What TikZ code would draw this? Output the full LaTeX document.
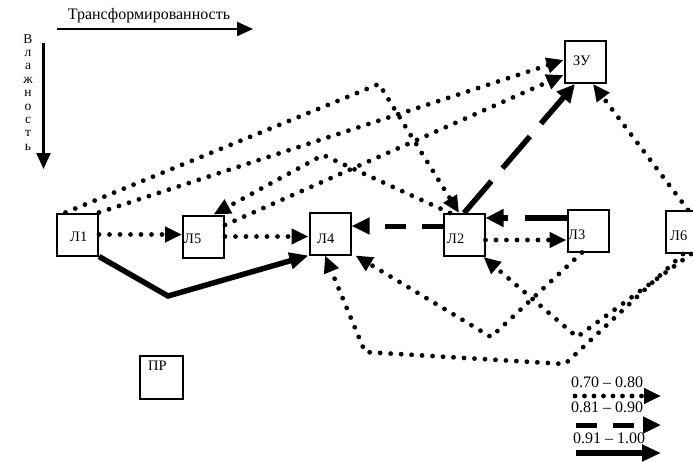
\documentclass[tikz,border=0pt]{standalone}
\usepackage{fontspec}
\setmainfont{Liberation Serif}
\usetikzlibrary{arrows.meta}
\begin{document}
\begin{tikzpicture}[x=1pt,y=-1pt,
  box/.style={draw,line width=2pt,minimum width=41pt,minimum height=42pt,inner sep=0pt},
  lbl/.style={anchor=base west,inner sep=0pt,font=\fontsize{14.5}{14.5}\selectfont},
  dotline/.style={line width=4.8pt,line cap=round,dash pattern=on 0pt off 10.5pt,
    -{Triangle[length=17pt,width=15pt]}},
  dashline/.style={line width=5.5pt,dash pattern=on 42pt off 17pt,
    -{Triangle[length=18pt,width=17pt]}},
  shortdash/.style={line width=5pt,dash pattern=on 21pt off 16pt,
    -{Triangle[length=18pt,width=16pt]}},
  solidline/.style={line width=5.5pt,-{Triangle[length=19pt,width=16pt]}},
  axis/.style={line width=2.2pt,-{Triangle[length=16pt,width=14pt]}},
  legtext/.style={inner sep=0pt,font=\fontsize{16}{16}\selectfont},
]
\useasboundingbox (0,0) rectangle (693,461);
\clip (0,0) rectangle (693,461);

% axes
\coordinate (hx0) at (57,29);
\coordinate (hx1) at (253,29);
\draw[axis] (hx0) -- (hx1);
\node[inner sep=0pt,font=\fontsize{16}{16}\selectfont] (title) at (149,16) {Трансформированность};
\coordinate (vy0) at (43.5,43);
\coordinate (vy1) at (43.5,169);
\draw[axis] (vy0) -- (vy1);
\node[anchor=north,inner sep=0pt,align=center,font=\fontsize{13.5}{13.4}\selectfont] (vword) at (28,34)
  {В\\л\\а\\ж\\н\\о\\с\\т\\ь};

% boxes
\node[box] (L1) at (77.5,234.5) {};
\node[box] (L5) at (203.5,236.5) {};
\node[box] (L4) at (330,233.5) {};
\node[box] (L2) at (464,235) {};
\node[box] (L3) at (588,230.5) {};
\node[box] (L6) at (686,232) {};
\node[box] (ZU) at (585,62) {};
\node[box,minimum width=43pt,minimum height=43pt] (PR) at (161.5,377.5) {};

% box labels
\node[lbl] (L1t) at (70,241) {Л1};
\node[lbl] (L5t) at (184,243) {Л5};
\node[lbl] (L4t) at (317,243) {Л4};
\node[lbl] (L2t) at (447,243) {Л2};
\node[lbl] (L3t) at (568,239) {Л3};
\node[lbl] (L6t) at (670,240) {Л6};
\node[lbl] (ZUt) at (573,65) {ЗУ};
\node[lbl] (PRt) at (148,370) {ПР};

% bend points
\coordinate (c1) at (379,84);
\coordinate (c2) at (323,155);
\coordinate (c3) at (565,364);
\coordinate (c4) at (365,352);
\coordinate (c5) at (491,337);
\coordinate (c6) at (577,337);
\coordinate (c7) at (168,296);

% 0.70 -- 0.80
\draw[dotline] (L1.east) -- (L1.east -| L5.west);
\draw[dotline] (L5.east) -- (L5.east -| L4.west);
\draw[dotline] ([yshift=-5pt]L2.east) -- ([yshift=-5pt]L2.east -| L3.west);
\draw[dotline] ([xshift=-12pt]L1.north) -- (c1) -- ([xshift=-5pt]L2.north);
\draw[dotline] (L1.north east) -- ([yshift=2pt]ZU.west);
\draw[dotline] ([xshift=-14pt]L2.north) -- (c2) -- ([xshift=10pt]L5.north);
\draw[dotline] ([yshift=11.5pt]L5.east) -- ([yshift=-13pt]ZU.west);
\draw[dotline] ([xshift=2pt]L6.north) -- ([xshift=8pt]ZU.south);
\draw[dotline] ([xshift=-3pt]L6.south) -- (c3) -- (c4) -- ([xshift=-5pt]L4.south);
\draw[dotline] ([xshift=-6pt]L3.south) -- (c5) -- ([xshift=4pt]L4.south east);
\draw[dotline] ([xshift=5pt]L6.south) -- (c6) -- ([xshift=-2pt]L2.south east);

% 0.81 -- 0.90
\draw[shortdash] ([yshift=9pt]L2.west) -- ([yshift=9pt]L2.west -| L4.east);
\draw[dashline] ([yshift=12.5pt]L3.west) -- ([yshift=12.5pt]L3.west -| L2.east);
\draw[dashline] (L2.north) -- ([xshift=-10pt]ZU.south);

% 0.91 -- 1.00
\draw[solidline] (L1.south east) -- (c7) -- (L4.south west);

% legend
\node[legtext] (leg1) at (607,382) {0.70 – 0.80};
\coordinate (d1a) at (575,396);
\coordinate (d1b) at (661,396);
\draw[dotline,dash pattern=on 0pt off 9.5pt] (d1a) -- (d1b);
\node[legtext] (leg2) at (607,407) {0.81 – 0.90};
\coordinate (d2a) at (576,425);
\coordinate (d2b) at (661,425);
\draw[shortdash] (d2a) -- (d2b);
\node[legtext] (leg3) at (609,438) {0.91 – 1.00};
\coordinate (d3a) at (576,453);
\coordinate (d3b) at (661,453);
\draw[solidline] (d3a) -- (d3b);
\end{tikzpicture}
\end{document}
